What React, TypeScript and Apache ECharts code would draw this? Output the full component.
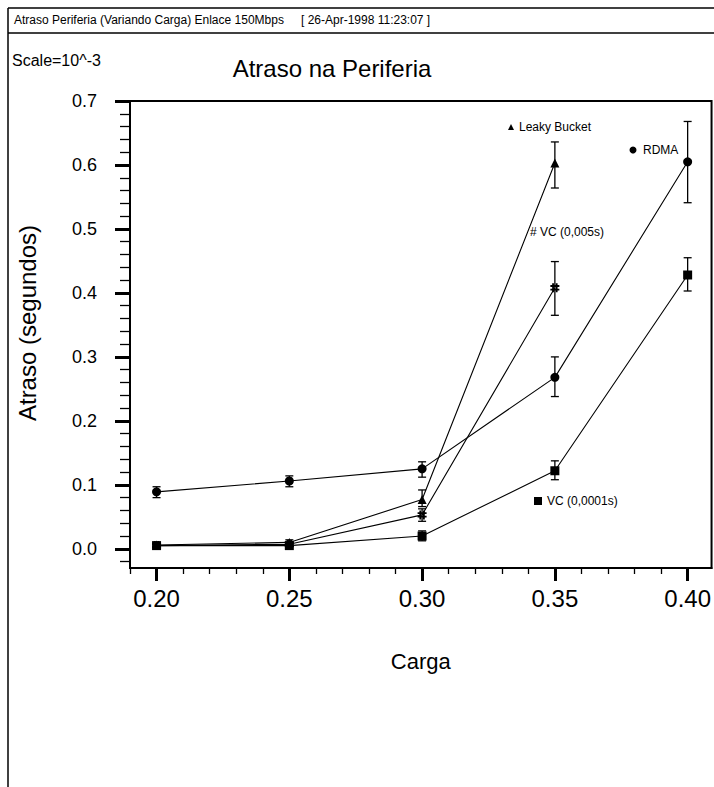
import React, { useEffect, useRef } from "react";
import * as echarts from "echarts";

// ---- data ----
const cargaValues = [0.2, 0.25, 0.3, 0.35, 0.4];

const rdma = [0.089, 0.106, 0.125, 0.268, 0.605];
const rdmaLow = [0.08, 0.097, 0.112, 0.238, 0.541];
const rdmaHigh = [0.097, 0.114, 0.136, 0.3, 0.668];

const leaky = [0.006, 0.01, 0.077, 0.603];
const leakyLow = [0.003, 0.006, 0.066, 0.564];
const leakyHigh = [0.009, 0.014, 0.092, 0.636];

const vc005 = [0.005, 0.007, 0.053, 0.408];
const vc005Low = [0.003, 0.004, 0.043, 0.365];
const vc005High = [0.007, 0.01, 0.0625, 0.449];

const vc0001 = [0.005, 0.005, 0.02, 0.122, 0.428];
const vc0001Low = [0.003, 0.003, 0.0125, 0.108, 0.403];
const vc0001High = [0.007, 0.007, 0.028, 0.1375, 0.455];

const xMajorTicks = [0.2, 0.25, 0.3, 0.35, 0.4];
const xMinorTicks = [
  0.19, 0.21, 0.22, 0.23, 0.24, 0.26, 0.27, 0.28, 0.29, 0.31, 0.32, 0.33, 0.34,
  0.36, 0.37, 0.38, 0.39,
];
const yMajorTicks = [0, 0.1, 0.2, 0.3, 0.4, 0.5, 0.6, 0.7];
const yMinorTicks = [
  -0.02, 0.02, 0.04, 0.06, 0.08, 0.12, 0.14, 0.16, 0.18, 0.22, 0.24, 0.26, 0.28,
  0.32, 0.34, 0.36, 0.38, 0.42, 0.44, 0.46, 0.48, 0.52, 0.54, 0.56, 0.58, 0.62,
  0.64, 0.66, 0.68,
];

const FONT = "'Liberation Sans', Arial, Helvetica, sans-serif";
const HASH_PATH =
  "path://M2,0h2v10h-2z M6,0h2v10h-2z M0,2h10v2h-10z M0,6h10v2h-10z";

function pairs(vals: number[]) {
  return vals.map((v, i) => [cargaValues[i], v]);
}
function errData(low: number[], high: number[]) {
  return low.map((l, i) => [cargaValues[i], l, high[i]]);
}

function errorSeries(low: number[], high: number[]) {
  return {
    type: "custom",
    xAxisIndex: 0,
    yAxisIndex: 0,
    data: errData(low, high),
    encode: { x: 0, y: [1, 2] },
    z: 1,
    silent: true,
    renderItem: (params: any, api: any) => {
      const x = api.value(0);
      const lo = api.coord([x, api.value(1)]);
      const hi = api.coord([x, api.value(2)]);
      const cap = 4;
      const style = { stroke: "#000", lineWidth: 1.3 };
      return {
        type: "group",
        children: [
          { type: "line", shape: { x1: lo[0], y1: lo[1], x2: hi[0], y2: hi[1] }, style },
          { type: "line", shape: { x1: lo[0] - cap, y1: lo[1], x2: lo[0] + cap, y2: lo[1] }, style },
          { type: "line", shape: { x1: hi[0] - cap, y1: hi[1], x2: hi[0] + cap, y2: hi[1] }, style },
        ],
      };
    },
  };
}

function lineSeries(name: string, vals: number[], symbol: string, size: number) {
  return {
    name,
    type: "line",
    xAxisIndex: 0,
    yAxisIndex: 0,
    data: pairs(vals),
    symbol,
    symbolSize: size,
    showAllSymbol: true,
    z: 3,
    itemStyle: { color: "#000" },
    lineStyle: { color: "#000", width: 1.1 },
  };
}

export default function App() {
  const ref = useRef<HTMLDivElement>(null);
  useEffect(() => {
    if (!ref.current) return;
    const chart = echarts.init(ref.current, null, { renderer: "svg" });
    const axisLineStyle = { lineStyle: { color: "#000", width: 2 } };
    const option: any = {
      animation: false,
      backgroundColor: "#fff",
      textStyle: { fontFamily: FONT, color: "#000" },
      grid: {
        left: 130,
        top: 101,
        width: 582,
        height: 467,
        show: true,
        borderColor: "#000",
        borderWidth: 2,
        backgroundColor: "transparent",
      },
      xAxis: [
        {
          type: "value",
          min: 0.19,
          max: 0.409,
          position: "bottom",
          axisLine: { show: true, onZero: false, ...axisLineStyle },
          axisTick: {
            show: true,
            inside: false,
            length: 13,
            customValues: xMajorTicks,
            lineStyle: { color: "#000", width: 3 },
          },
          axisLabel: {
            customValues: xMajorTicks,
            formatter: (v: number) => v.toFixed(2),
            fontSize: 24,
            color: "#000",
            fontFamily: FONT,
            margin: 18,
          },
          splitLine: { show: false },
          name: "Carga",
          nameLocation: "middle",
          nameGap: 82,
          nameTextStyle: { fontSize: 22, color: "#000", fontFamily: FONT },
        },
        {
          type: "value",
          min: 0.19,
          max: 0.409,
          position: "bottom",
          axisLine: { show: false, onZero: false },
          axisTick: {
            show: true,
            inside: false,
            length: 6,
            customValues: xMinorTicks,
            lineStyle: { color: "#000", width: 1.3 },
          },
          axisLabel: { show: false },
          splitLine: { show: false },
        },
      ],
      yAxis: [
        {
          type: "value",
          min: -0.03,
          max: 0.7,
          position: "left",
          axisLine: { show: true, onZero: false, ...axisLineStyle },
          axisTick: {
            show: true,
            inside: false,
            length: 15,
            customValues: yMajorTicks,
            lineStyle: { color: "#000", width: 3 },
          },
          axisLabel: {
            customValues: yMajorTicks,
            formatter: (v: number) => v.toFixed(1),
            fontSize: 18,
            color: "#000",
            fontFamily: FONT,
            margin: 33,
          },
          splitLine: { show: false },
        },
        {
          type: "value",
          min: -0.03,
          max: 0.7,
          position: "left",
          axisLine: { show: false, onZero: false },
          axisTick: {
            show: true,
            inside: false,
            length: 10,
            customValues: yMinorTicks,
            lineStyle: { color: "#000", width: 1.3 },
          },
          axisLabel: { show: false },
          splitLine: { show: false },
        },
      ],
      series: [
        errorSeries(rdmaLow, rdmaHigh),
        errorSeries(leakyLow, leakyHigh),
        errorSeries(vc005Low, vc005High),
        errorSeries(vc0001Low, vc0001High),
        lineSeries("RDMA", rdma, "circle", 9),
        lineSeries("Leaky Bucket", leaky, "triangle", 9),
        lineSeries("VC (0,005s)", vc005, HASH_PATH, 9),
        lineSeries("VC (0,0001s)", vc0001, "rect", 9),
      ],
      graphic: [
        // page frame
        { type: "line", shape: { x1: 8, y1: 8, x2: 714, y2: 8 }, style: { stroke: "#000", lineWidth: 1.5 } },
        { type: "line", shape: { x1: 8, y1: 8, x2: 8, y2: 787 }, style: { stroke: "#000", lineWidth: 1.5 } },
        { type: "line", shape: { x1: 8, y1: 33, x2: 714, y2: 33 }, style: { stroke: "#000", lineWidth: 1.5 } },
        {
          type: "text",
          x: 14,
          y: 20,
          style: {
            text: "Atraso Periferia (Variando Carga) Enlace 150Mbps",
            fontSize: 12,
            fontFamily: FONT,
            fill: "#000",
            verticalAlign: "middle",
          },
        },
        {
          type: "text",
          x: 301,
          y: 20,
          style: {
            text: "[ 26-Apr-1998 11:23:07 ]",
            fontSize: 12,
            fontFamily: FONT,
            fill: "#000",
            verticalAlign: "middle",
          },
        },
        {
          type: "text",
          x: 12,
          y: 60,
          style: { text: "Scale=10^-3", fontSize: 16, fontFamily: FONT, fill: "#000", verticalAlign: "middle" },
        },
        {
          type: "text",
          x: 332,
          y: 68,
          style: {
            text: "Atraso na Periferia",
            fontSize: 24,
            fontFamily: FONT,
            fill: "#000",
            align: "center",
            verticalAlign: "middle",
          },
        },
        {
          type: "text",
          x: 27,
          y: 323,
          rotation: Math.PI / 2,
          style: {
            text: "Atraso (segundos)",
            fontSize: 24,
            fontFamily: FONT,
            fill: "#000",
            align: "center",
            verticalAlign: "middle",
          },
        },
        // legend-like annotations
        {
          type: "polygon",
          shape: { points: [[511, 124], [514, 130], [508, 130]] },
          style: { fill: "#000" },
        },
        {
          type: "text",
          x: 519,
          y: 127,
          style: { text: "Leaky Bucket", fontSize: 12, fontFamily: FONT, fill: "#000", verticalAlign: "middle" },
        },
        { type: "circle", shape: { cx: 633, cy: 150, r: 3.5 }, style: { fill: "#000" } },
        {
          type: "text",
          x: 643,
          y: 150,
          style: { text: "RDMA", fontSize: 12, fontFamily: FONT, fill: "#000", verticalAlign: "middle" },
        },
        {
          type: "text",
          x: 530,
          y: 232,
          style: { text: "# VC (0,005s)", fontSize: 12, fontFamily: FONT, fill: "#000", verticalAlign: "middle" },
        },
        { type: "rect", shape: { x: 534, y: 497, width: 8, height: 8 }, style: { fill: "#000" } },
        {
          type: "text",
          x: 547,
          y: 501,
          style: { text: "VC (0,0001s)", fontSize: 12, fontFamily: FONT, fill: "#000", verticalAlign: "middle" },
        },
      ],
    };
    chart.setOption(option);
    return () => chart.dispose();
  }, []);
  return (
    <div
      ref={ref}
      style={{ position: "fixed", left: 0, top: 0, width: 714, height: 787, background: "#fff" }}
    />
  );
}
